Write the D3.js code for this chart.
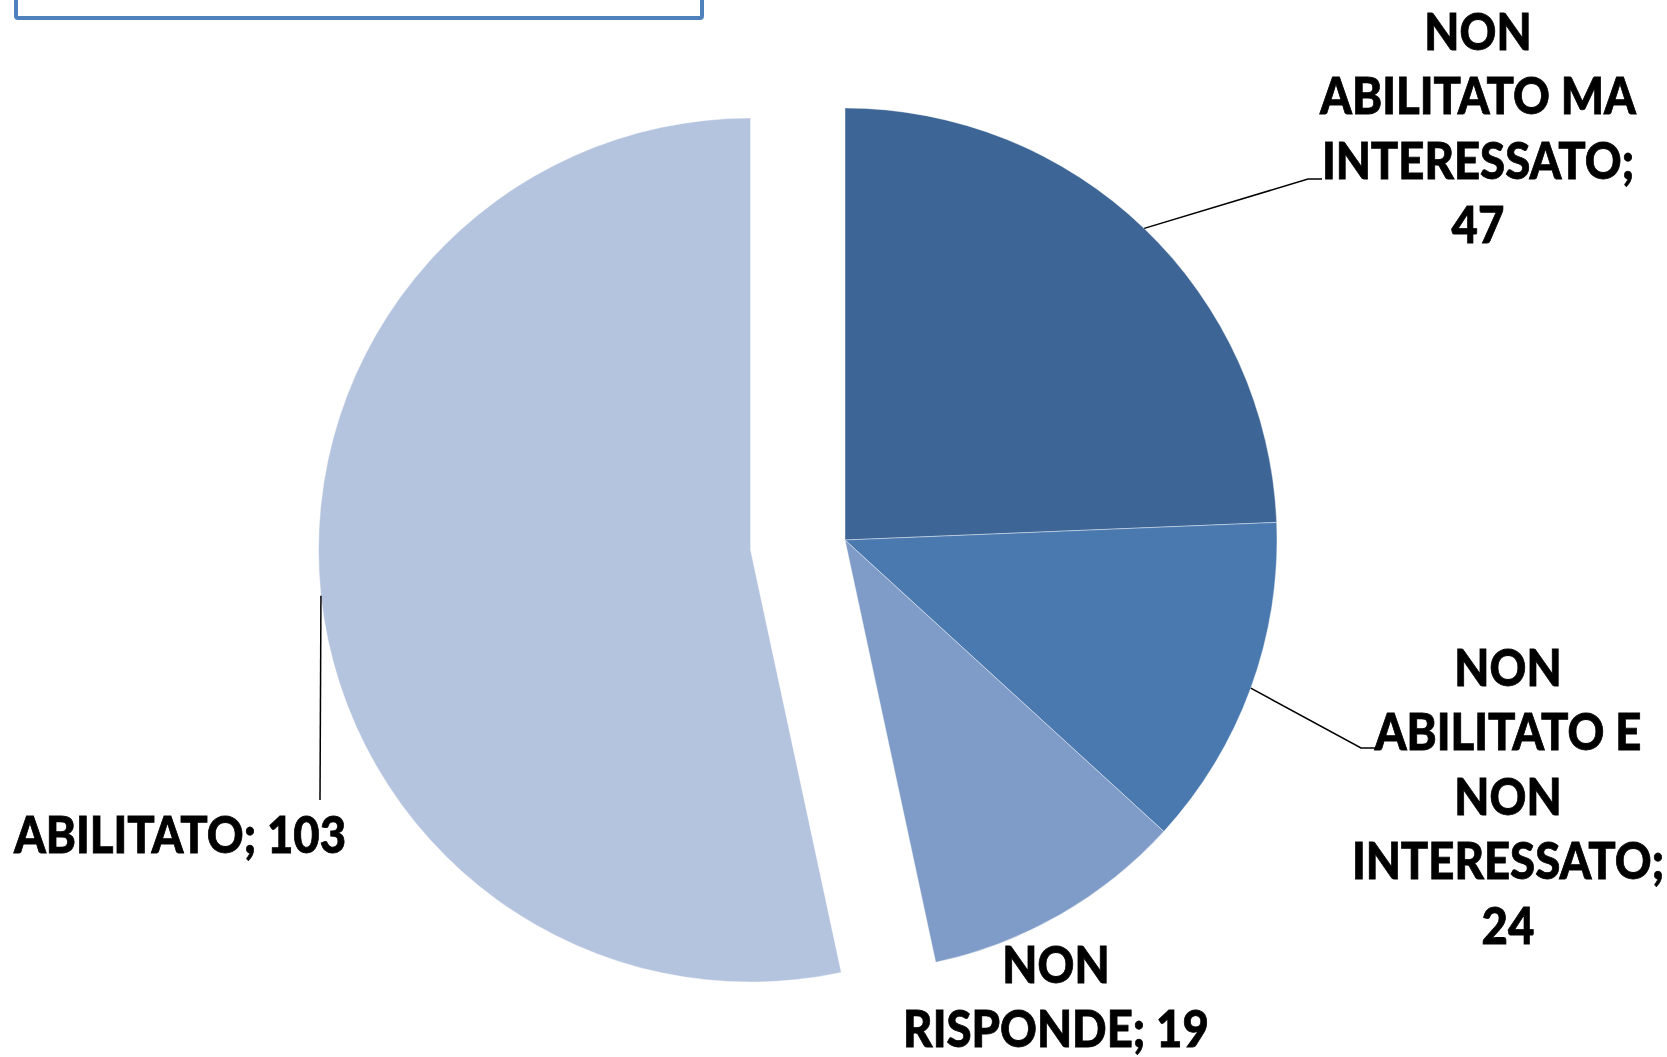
<!DOCTYPE html>
<html lang="it">
<head>
<meta charset="UTF-8">
<title>Abilitazione</title>
<script src="https://cdn.jsdelivr.net/npm/d3@7"></script>
<style>
    body { margin: 0; background: #fff; }
    svg { display: block; }
</style>
</head>
<body>
<svg id="svg"></svg>
<script>
    // dati
    var categories = ["NON ABILITATO MA INTERESSATO", "NON ABILITATO E NON INTERESSATO", "NON RISPONDE", "ABILITATO"];
    var values = [47, 24, 19, 103];
    // righe delle etichette (a capo come nell'originale)
    var categoryLines = [["NON", "ABILITATO MA", "INTERESSATO"], ["NON", "ABILITATO E", "NON", "INTERESSATO"], ["NON", "RISPONDE"], ["ABILITATO"]];
    var valueOnNewLine = [true, true, false, false];
    var colors = ["#3d6595", "#4a79b0", "#7f9cc8", "#b4c3de"];
    var exploded = [false, false, false, true];

    var width = 1667, height = 1057;
    var cx = 845, cy = 540, R = 432, explode = 95;
    var fontSize = 52, lineH = 64.5, squeeze = 0.875;

    // posizione etichette: centro x, prima linea di base y; fine della linea guida
    var labelLayout = [
        {x: 1478, y: 50, elbow: [1308, 179], end: [1322, 179]},
        {x: 1508, y: 686, elbow: [1361, 748], end: [1376, 748]},
        {x: 1056, y: 983, elbow: null, end: null},
        {x: 180, y: 853, elbow: null, end: [320, 800]}
    ];

    var svg = d3.select("#svg").attr("width", width).attr("height", height);

    // riquadro in alto a sinistra (tagliato dal bordo)
    svg.append("rect")
        .attr("x", 16).attr("y", -120)
        .attr("width", 686).attr("height", 138)
        .attr("rx", 2)
        .style("fill", "#fff")
        .style("stroke", "#4f81bd")
        .style("stroke-width", 4);

    var pie = d3.pie().sort(null).value(function (d) { return d; });
    var arcs = pie(values);
    var arc = d3.arc().innerRadius(0).outerRadius(R);

    function offset(d, i) {
        if (!exploded[i]) return [0, 0];
        var a = (d.startAngle + d.endAngle) / 2;
        return [Math.sin(a) * explode, -Math.cos(a) * explode];
    }

    var g = svg.append("g").attr("transform", "translate(" + cx + "," + cy + ")");

    g.selectAll("path")
        .data(arcs)
        .enter()
        .append("path")
        .attr("d", arc)
        .attr("transform", function (d, i) {
            var o = offset(d, i);
            return "translate(" + o[0] + "," + o[1] + ")";
        })
        .style("fill", function (d, i) { return colors[i]; })
        .style("stroke", "#fff")
        .style("stroke-width", 0.4);

    // linee guida
    arcs.forEach(function (d, i) {
        var lay = labelLayout[i];
        if (!lay.end) return;
        var a = (d.startAngle + d.endAngle) / 2;
        var o = offset(d, i);
        var p0 = [cx + o[0] + Math.sin(a) * R, cy + o[1] - Math.cos(a) * R];
        var pts = [p0];
        if (lay.elbow) pts.push(lay.elbow);
        pts.push(lay.end);
        svg.append("path")
            .attr("d", d3.line()(pts))
            .style("fill", "none")
            .style("stroke", "#000")
            .style("stroke-width", 1.5);
    });

    // etichette (stretto in orizzontale per somigliare a Calibri)
    arcs.forEach(function (d, i) {
        var lines = categoryLines[i].slice();
        var last = lines.length - 1;
        if (valueOnNewLine[i]) {
            lines[last] += ";";
            lines.push(String(values[i]));
        } else {
            lines[last] += "; " + values[i];
        }
        var lay = labelLayout[i];
        svg.append("text")
            .attr("transform", "translate(" + lay.x + ",0) scale(" + squeeze + ",1)")
            .attr("text-anchor", "middle")
            .style("font-family", "Lato, 'Open Sans', sans-serif")
            .style("font-weight", "900")
            .style("font-size", fontSize + "px")
            .style("fill", "#000")
            .style("stroke", "#000")
            .style("stroke-width", 0.8)
            .selectAll("tspan")
            .data(lines)
            .enter()
            .append("tspan")
            .attr("x", 0)
            .attr("y", function (t, k) { return lay.y + k * lineH; })
            .text(function (t) { return t; });
    });
</script>
</body>
</html>
